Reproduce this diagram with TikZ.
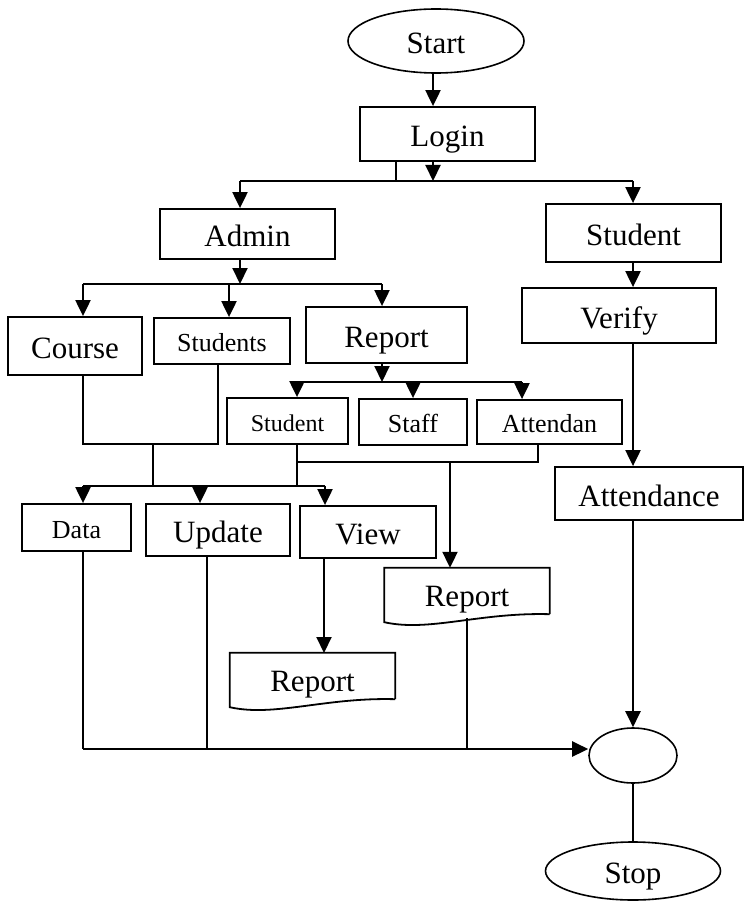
\documentclass[tikz,border=0pt]{standalone}
\usepackage{fontspec}
\setmainfont{Liberation Serif}
\usepackage{tikz}
\usetikzlibrary{arrows.meta,calc,shapes.geometric,positioning}
\newcommand{\flowbig}{\fontsize{31}{31}\selectfont}
\newcommand{\flowsmall}{\fontsize{26}{26}\selectfont}
\tikzset{
  >={Triangle[length=16pt,width=15pt]},
  boxline/.style={draw, line width=1.8pt},
  bigbox/.style={rectangle, boxline, inner sep=0pt, font=\flowbig,
                 text height=28pt, text depth=3pt},
  smallbox/.style={bigbox, font=\flowsmall, text height=23pt, text depth=2pt},
  docbox/.style={rectangle, inner sep=0pt, font=\flowbig,
                 text height=28pt, text depth=1pt},
  terminal/.style={ellipse, boxline, line width=1.6pt, inner sep=0pt, font=\flowbig,
                   text height=28pt, text depth=3pt},
  flow/.style={->, line width=2.1pt},
  link/.style={line width=1.9pt},
  thinlink/.style={line width=1.6pt}
}
% document symbol with a wavy bottom edge
\newcommand{\docoutline}[1]{%
  \draw[boxline] ($(#1.south east)+(0,-4)$) -- (#1.north east) -- (#1.north west)
    -- ($(#1.south west)+(0,4)$)
    .. controls ($(#1.south west)+(45,14)$) and ($(#1.south west)+(95,-6)$)
    .. ($(#1.south east)+(0,-4)$);}
\begin{document}
\begin{tikzpicture}[x=1pt,y=-1pt]
    \useasboundingbox (0,0) rectangle (744,901);
    % Draw nodes
    \node[terminal, minimum width=176pt, minimum height=64pt] (start) at (436,41) {Start};
    \node[bigbox, minimum width=175pt, minimum height=54pt] (login) at (447.5,134) {Login};
    \node[bigbox, minimum width=175pt, minimum height=50pt] (admin) at (247.5,234) {Admin};
    \node[bigbox, minimum width=175pt, minimum height=58pt] (student) at (633.5,233) {Student};
    \node[bigbox, minimum width=194pt, minimum height=55pt] (verify) at (619,315.5) {Verify};
    \node[bigbox, minimum width=134pt, minimum height=58pt] (course) at (75,346) {Course};
    \node[smallbox, minimum width=136pt, minimum height=46pt] (students) at (222,341) {Students};
    \node[bigbox, minimum width=161pt, minimum height=56pt] (report) at (386.5,335) {Report};
    \node[smallbox, font=\fontsize{24}{24}\selectfont, minimum width=121pt,
          minimum height=46pt] (repstudent) at (287.5,421) {Student};
    \node[smallbox, minimum width=108pt, minimum height=46pt] (repstaff) at (413,422) {Staff};
    \node[smallbox, minimum width=145pt, minimum height=44pt] (repattend) at (549.5,422) {Attendan};
    \node[smallbox, minimum width=109pt, minimum height=47pt] (data) at (76.5,527.5) {Data};
    \node[bigbox, minimum width=144pt, minimum height=52pt] (update) at (218,530) {Update};
    \node[bigbox, minimum width=136pt, minimum height=52pt] (view) at (368,532) {View};
    \node[bigbox, minimum width=188pt, minimum height=53pt] (attendance) at (649,493.5) {Attendance};
    \node[docbox, minimum width=165pt, minimum height=50pt] (reportdoc) at (467,593) {Report};
    \node[docbox, minimum width=165pt, minimum height=50pt] (viewdoc) at (312.5,678) {Report};
    \node[terminal, minimum width=88pt, minimum height=55pt] (join) at (633,755.5) {};
    \node[terminal, minimum width=175pt, minimum height=58pt] (stop) at (633,871) {Stop};
    \docoutline{reportdoc}
    \docoutline{viewdoc}

    % Bus points
    \coordinate (b1l) at (240,181);  \coordinate (b1m) at (433,181);  \coordinate (b1r) at (633,181);
    \coordinate (b2l) at (83,284);   \coordinate (b2s) at (229,284);  \coordinate (b2m) at (240,284);
    \coordinate (b2r) at (382,284);
    \coordinate (b3l) at (297,382);  \coordinate (b3m) at (382,382);  \coordinate (b3s) at (413,382);
    \coordinate (b3r) at (522,382);
    \coordinate (cjl) at (83,444);   \coordinate (cj) at (153,444);   \coordinate (cjr) at (218,444);
    \coordinate (rjl) at (297,462);  \coordinate (rjm) at (450,462);  \coordinate (rjr) at (538,462);
    \coordinate (b4l) at (83,486);   \coordinate (b4m) at (153,486);  \coordinate (b4u) at (200,486);
    \coordinate (b4r) at (325,486);
    \coordinate (vd) at (324,653);
    \coordinate (b5l) at (83,749);   \coordinate (b5u) at (207,749);

    % Top part
    \draw[flow] (start.south -| b1m) -- (b1m |- login.north);
    \draw[flow] (login.south -| b1m) -- (b1m);
    \draw[link] ($(login.south west)+(37,0)$) -- ++(0,20);
    \draw[link] (b1l) -- (b1r);
    \draw[flow] (b1l) -- (b1l |- admin.north);
    \draw[flow] (b1r) -- (b1r |- student.north);

    % Student side
    \draw[flow] (student.south -| b1r) -- (b1r |- verify.north);
    \draw[flow] (verify.south -| b1r) -- (b1r |- attendance.north);
    \draw[flow] (attendance.south -| join.north) -- (join.north);

    % Admin side
    \draw[flow] (admin.south -| b2m) -- (b2m);
    \draw[link] (b2l) -- (b2r);
    \foreach \c/\n in {b2l/course, b2s/students, b2r/report}
        \draw[flow] (\c) -- (\c |- \n.north);
    \draw[flow] (report.south -| b3m) -- (b3m);
    \draw[link] (b3l) -- (b3r);
    \foreach \c/\n in {b3l/repstudent, b3s/repstaff, b3r/repattend}
        \draw[flow] (\c) -- (\c |- \n.north);

    % Joins below
    \draw[link] (course.south -| cjl) -- (cjl) -- (cjr) -- (students.south -| cjr);
    \draw[link] (cj) -- (b4m);
    \draw[link] (b4l) -- (b4r);
    \foreach \c/\n in {b4l/data, b4u/update, b4r/view}
        \draw[flow] (\c) -- (\c |- \n.north);
    \draw[link] (repstudent.south -| b3l) -- (b3l |- b4l);
    \draw[link] (rjl) -- (rjr) -- (repattend.south -| rjr);
    \draw[flow] (rjm) -- (rjm |- reportdoc.north);
    \draw[flow] (view.south -| vd) -- (vd);

    % Bottom bus
    \draw[link] (data.south -| b5l) -- (b5l);
    \draw[thinlink] (update.south -| b5u) -- (b5u);
    \draw[link] (reportdoc.south) -- (reportdoc.south |- b5l);
    \draw[flow, line width=2.5pt] (b5l) -- (b5l -| join.west);
    \draw[thinlink] (join.south) -- (stop.north);

\end{tikzpicture}
\end{document}
